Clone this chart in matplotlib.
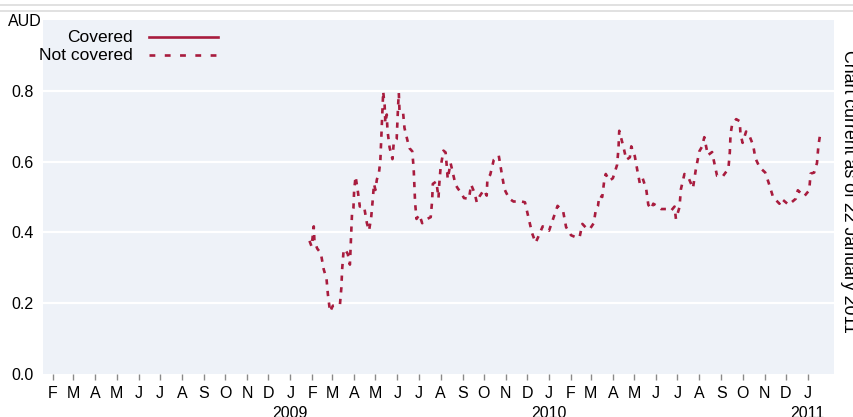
import matplotlib
matplotlib.use('Agg')
import matplotlib.pyplot as plt
import pandas as pd
from matplotlib.lines import Line2D

plt.rcParams['lines.scale_dashes'] = False
NARROW = ['Liberation Sans Narrow', 'Liberation Sans', 'DejaVu Sans']
REGULAR = ['Liberation Sans', 'DejaVu Sans']

# ---------------- data ----------------
start_date = '2009-01-28'
# day offsets from start_date
not_covered_days = [
    0, 3, 6, 7, 11, 16, 20, 24, 26, 29, 33, 43, 45, 46, 48, 50, 54, 57, 58, 59,
    60, 62, 63, 65, 68, 71, 77, 81, 84, 87, 89, 91, 93, 95, 98, 100, 101, 102, 103, 104,
    105, 106, 107, 109, 110, 113, 117, 119, 123, 124, 125, 126, 127, 132, 134, 139, 141, 145, 147, 148,
    149, 151, 155, 159, 164, 171, 173, 174, 179, 182, 183, 185, 189, 192, 194, 195, 199, 201, 206, 209,
    214, 218, 225, 228, 233, 236, 240, 246, 250, 251, 255, 260, 267, 271, 275, 277, 282, 288, 296, 304,
    309, 314, 319, 322, 329, 338, 344, 350, 358, 362, 369, 376, 381, 385, 392, 396, 401, 404, 407, 409,
    413, 416, 418, 423, 428, 434, 436, 437, 443, 447, 452, 454, 459, 463, 466, 470, 475, 478, 482, 485,
    490, 496, 503, 510, 515, 517, 522, 524, 529, 535, 541, 545, 550, 554, 557, 562, 568, 570, 575, 583,
    591, 593, 594, 596, 602, 607, 608, 611, 616, 620, 626, 629, 635, 643, 648, 654, 663, 666, 676, 686,
    689, 698, 705, 707, 712, 716, 718, 720,
]
not_covered_values = [
    0.376, 0.360, 0.417, 0.374, 0.354, 0.341, 0.296, 0.269, 0.224, 0.176, 0.193, 0.197, 0.245, 0.294, 0.346, 0.353, 0.339, 0.309, 0.357, 0.406,
    0.454, 0.469, 0.519, 0.558, 0.519, 0.473, 0.473, 0.426, 0.405, 0.442, 0.487, 0.537, 0.520, 0.549, 0.568, 0.605, 0.653, 0.702, 0.749, 0.798,
    0.777, 0.760, 0.709, 0.733, 0.688, 0.640, 0.607, 0.657, 0.664, 0.712, 0.758, 0.794, 0.742, 0.739, 0.695, 0.653, 0.638, 0.629, 0.579, 0.532,
    0.483, 0.438, 0.450, 0.426, 0.436, 0.443, 0.489, 0.537, 0.544, 0.497, 0.534, 0.584, 0.631, 0.626, 0.579, 0.551, 0.596, 0.579, 0.535, 0.525,
    0.511, 0.497, 0.495, 0.535, 0.511, 0.485, 0.502, 0.520, 0.504, 0.552, 0.563, 0.605, 0.617, 0.569, 0.523, 0.514, 0.495, 0.487, 0.489, 0.485,
    0.442, 0.398, 0.371, 0.384, 0.417, 0.405, 0.440, 0.475, 0.458, 0.415, 0.392, 0.386, 0.386, 0.424, 0.409, 0.411, 0.426, 0.464, 0.475, 0.504,
    0.500, 0.549, 0.565, 0.546, 0.553, 0.591, 0.640, 0.687, 0.641, 0.605, 0.612, 0.643, 0.615, 0.570, 0.539, 0.553, 0.523, 0.478, 0.466, 0.481,
    0.475, 0.466, 0.466, 0.461, 0.473, 0.438, 0.471, 0.522, 0.565, 0.553, 0.525, 0.577, 0.629, 0.643, 0.669, 0.618, 0.627, 0.607, 0.560, 0.558,
    0.580, 0.626, 0.676, 0.702, 0.720, 0.714, 0.679, 0.653, 0.685, 0.676, 0.646, 0.610, 0.584, 0.569, 0.539, 0.500, 0.481, 0.495, 0.478, 0.495,
    0.519, 0.502, 0.519, 0.566, 0.569, 0.596, 0.645, 0.671,
]
covered_days = []
covered_values = []

series_labels = ['Covered', 'Not covered']
month_letters = ['F', 'M', 'A', 'M', 'J', 'J', 'A', 'S', 'O', 'N', 'D', 'J'] * 3
month_ticks = pd.date_range('2008-02-01', '2011-01-01', freq='MS')
year_labels = ['2009', '2010', '2011']
y_ticks = [0.0, 0.2, 0.4, 0.6, 0.8]
y_label = 'AUD'
side_note = 'Chart current as of 22 January 2011'

# ---------------- figure ----------------
W, H = 854, 417
fig = plt.figure(figsize=(W / 100, H / 100), dpi=100)
fig.patch.set_facecolor('white')
ax = fig.add_axes([43 / W, (H - 374) / H, (834 - 43) / W, (374 - 20) / H])
ax.set_facecolor('#EEF2F8')
for s in ax.spines.values():
    s.set_visible(False)

red = '#A81C3E'
t0 = pd.Timestamp(start_date)
nc_x = [t0 + pd.Timedelta(days=d) for d in not_covered_days]
cv_x = [t0 + pd.Timedelta(days=d) for d in covered_days]
ax.plot(cv_x, covered_values, color=red, lw=1.9, zorder=3)
ax.plot(nc_x, not_covered_values, color=red, lw=1.9,
        linestyle=(0, (3.8, 4.6)), zorder=3)

ax.set_ylim(0, 1.0)
ax.set_xlim(pd.Timestamp('2008-01-18'), pd.Timestamp('2011-02-07'))

ax.set_yticks(y_ticks)
ax.set_yticklabels([f'{v:.1f}' for v in y_ticks], family=NARROW, fontsize=11.5)
ax.tick_params(axis='y', length=0, pad=7)
ax.yaxis.grid(True, color='white', lw=1.6)
ax.yaxis.get_gridlines()[0].set_visible(False)
ax.set_axisbelow(True)

ax.set_xticks(month_ticks)
ax.set_xticklabels(month_letters, family=NARROW, fontsize=11.5)
ax.tick_params(axis='x', length=4, width=1, color='#8A8A8A', pad=5)

for yl in year_labels:
    ax.annotate(yl, xy=(pd.Timestamp(f'{yl}-01-01'), 0), xycoords=('data', 'axes fraction'),
                xytext=(0, -23), textcoords='offset points', ha='center', va='top',
                family=NARROW, fontsize=11.5, annotation_clip=False)

fig.text(8 / W, 1 - 14 / H, y_label, ha='left', va='top', family=NARROW, fontsize=11.5)

# legend (manual, right-aligned labels)
leg_rows = [(37, '-'), (55, (0, (4.2, 6.8)))]
for (ypx, ls), lab in zip(leg_rows, series_labels):
    fig.text(133 / W, 1 - ypx / H, lab, ha='right', va='center', family=NARROW, fontsize=12.5)
    fig.add_artist(Line2D([149 / W, 218 / W], [1 - ypx / H, 1 - ypx / H],
                          transform=fig.transFigure, color=red, lw=1.9, linestyle=ls))

# header remnants
for ypx in (5, 10.5):
    fig.add_artist(Line2D([0, 1], [1 - ypx / H, 1 - ypx / H], transform=fig.transFigure,
                          color='#DCDCDC', lw=1.2))

fig.text(844 / W, 1 - 50 / H, side_note, rotation=-90, rotation_mode='anchor',
         ha='left', va='baseline', family=REGULAR, fontsize=12.8)

fig.savefig('out.png', dpi=100)
